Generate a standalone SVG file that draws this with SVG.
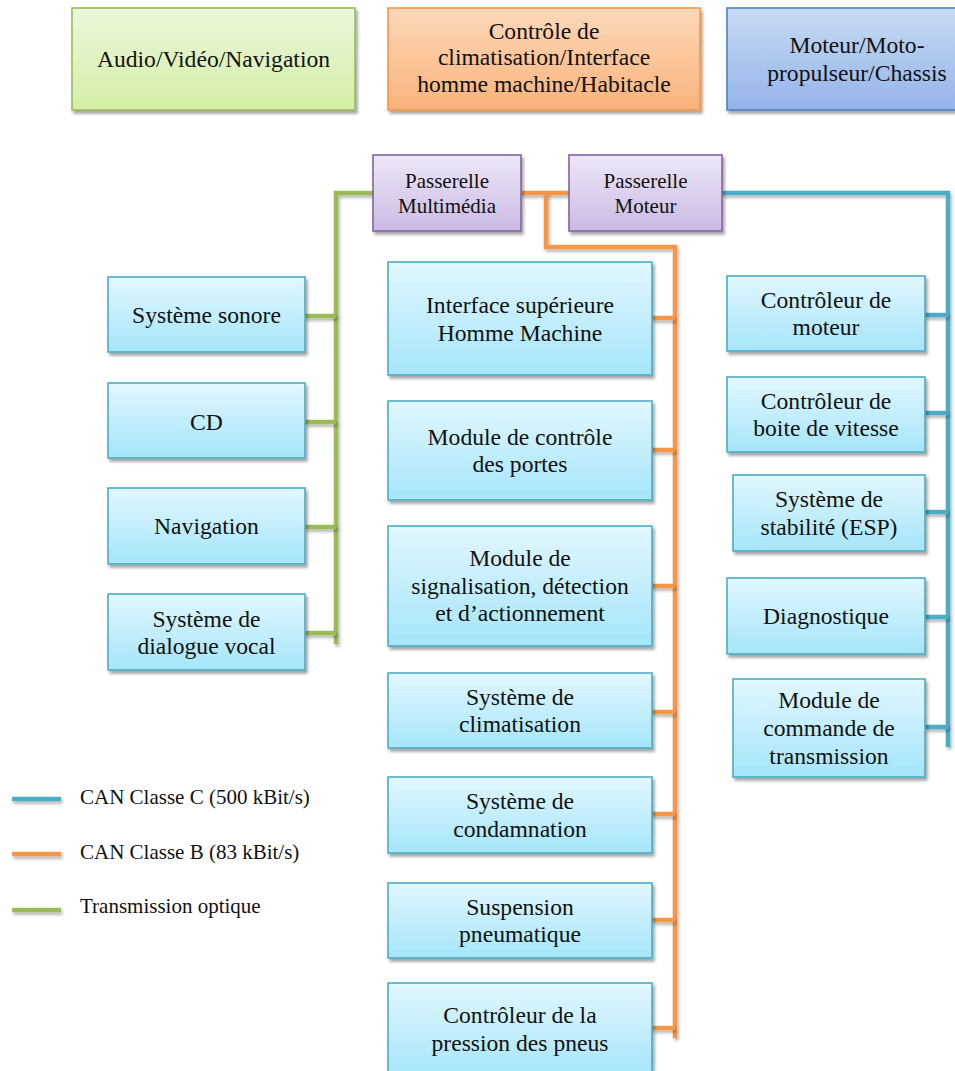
<svg xmlns="http://www.w3.org/2000/svg" width="955" height="1071" viewBox="0 0 955 1071">
  <defs>
    <linearGradient id="gCyan" x1="0" y1="0" x2="0" y2="1">
      <stop offset="0" stop-color="#e2f7fe"/>
      <stop offset="1" stop-color="#a5e5fa"/>
    </linearGradient>
    <linearGradient id="gGreen" x1="0" y1="0" x2="0" y2="1">
      <stop offset="0" stop-color="#ecf7dc"/>
      <stop offset="1" stop-color="#d3efa6"/>
    </linearGradient>
    <linearGradient id="gOrange" x1="0" y1="0" x2="0" y2="1">
      <stop offset="0" stop-color="#fdd9ba"/>
      <stop offset="1" stop-color="#f9b27a"/>
    </linearGradient>
    <linearGradient id="gBlue" x1="0" y1="0" x2="0" y2="1">
      <stop offset="0" stop-color="#c8dbf3"/>
      <stop offset="1" stop-color="#94b3e9"/>
    </linearGradient>
    <linearGradient id="gPurple" x1="0" y1="0" x2="0" y2="1">
      <stop offset="0" stop-color="#eee7f6"/>
      <stop offset="1" stop-color="#cbbae4"/>
    </linearGradient>
    <!-- soft drop shadow; user-space region so flat lines keep their shadow -->
    <filter id="shadow" filterUnits="userSpaceOnUse" x="0" y="0" width="955" height="1071">
      <feDropShadow dx="2" dy="3" stdDeviation="1.8" flood-color="#000" flood-opacity="0.35"/>
    </filter>
    <filter id="lineShadow" filterUnits="userSpaceOnUse" x="0" y="0" width="955" height="1071">
      <feDropShadow dx="1.5" dy="2.5" stdDeviation="1.5" flood-color="#000" flood-opacity="0.3"/>
    </filter>
  </defs>
  <style>
    .box { stroke-width: 1.6; filter: url(#shadow); }
    .cyan { fill: url(#gCyan); stroke: #4bacc6; }
    .green { fill: url(#gGreen); stroke: #9bbb59; }
    .orange { fill: url(#gOrange); stroke: #f79646; }
    .blue { fill: url(#gBlue); stroke: #4f81bd; }
    .purple { fill: url(#gPurple); stroke: #8064a2; }
    text { font-family: "Liberation Serif", "Times New Roman", serif; fill: #111; text-anchor: middle; }
    .t24 { font-size: 23.6px; }
    .t21 { font-size: 21px; }
    .legend { font-size: 21px; text-anchor: start; }
    .bus { fill: none; stroke-width: 4.5; stroke-linejoin: miter; stroke-linecap: butt; filter: url(#lineShadow); }
    .busG { stroke: #9bbb59; }
    .busO { stroke: #f79646; }
    .busB { stroke: #4bacc6; }
  </style>

  <!-- bus connectors -->
  <g id="connectors">
    <!-- optical ring -->
    <path class="bus busG" d="M373 193 H336 V644"/>
    <path class="bus busG" d="M305 316 H336 M305 422 H336 M305 527 H336 M305 633 H336"/>
    <!-- CAN class B -->
    <path class="bus busO" d="M521 193 H569"/>
    <path class="bus busO" d="M546 193 V247 H675 V1038"/>
    <path class="bus busO" d="M652 318 H675 M652 450 H675 M652 586 H675 M652 712 H675 M652 814 H675 M652 920 H675 M652 1028 H675"/>
    <!-- CAN class C -->
    <path class="bus busB" d="M722 193 H948 V747"/>
    <path class="bus busB" d="M925 315 H948 M925 413 H948 M925 512 H948 M925 617 H948 M925 727 H948"/>
  </g>

  <!-- domain headers -->
  <g id="domain-av">
    <rect class="box green" x="72" y="8" width="283" height="102"/>
    <text class="t24" x="213.5" y="67">Audio/Vidéo/Navigation</text>
  </g>
  <g id="domain-clim">
    <rect class="box orange" x="388" y="8" width="312" height="102"/>
    <text class="t24" x="544" y="38.5">Contrôle de</text>
    <text class="t24" x="544" y="65">climatisation/Interface</text>
    <text class="t24" x="544" y="91.5">homme machine/Habitacle</text>
  </g>
  <g id="domain-moteur">
    <rect class="box blue" x="727" y="8" width="240" height="102"/>
    <text class="t24" x="857" y="53">Moteur/Moto-</text>
    <text class="t24" x="857" y="80.6">propulseur/Chassis</text>
  </g>

  <!-- gateways -->
  <g id="gw-multimedia">
    <rect class="box purple" x="373" y="155" width="148" height="76"/>
    <text class="t21" x="447" y="188">Passerelle</text>
    <text class="t21" x="447" y="213">Multimédia</text>
  </g>
  <g id="gw-moteur">
    <rect class="box purple" x="569" y="155" width="153" height="76"/>
    <text class="t21" x="645.5" y="188">Passerelle</text>
    <text class="t21" x="645.5" y="213">Moteur</text>
  </g>

  <!-- optical ring devices -->
  <g id="n-sonore">
    <rect class="box cyan" x="108" y="277" width="197" height="75"/>
    <text class="t24" x="206.5" y="323">Système sonore</text>
  </g>
  <g id="n-cd">
    <rect class="box cyan" x="108" y="383" width="197" height="75"/>
    <text class="t24" x="206.5" y="429.5">CD</text>
  </g>
  <g id="n-navigation">
    <rect class="box cyan" x="108" y="488" width="197" height="76"/>
    <text class="t24" x="206.5" y="534">Navigation</text>
  </g>
  <g id="n-dialogue">
    <rect class="box cyan" x="108" y="594" width="197" height="76"/>
    <text class="t24" x="206.5" y="626.5">Système de</text>
    <text class="t24" x="206.5" y="654">dialogue vocal</text>
  </g>

  <!-- CAN class B devices -->
  <g id="n-ihm">
    <rect class="box cyan" x="388" y="262" width="264" height="113"/>
    <text class="t24" x="520" y="313">Interface supérieure</text>
    <text class="t24" x="520" y="340.6">Homme Machine</text>
  </g>
  <g id="n-portes">
    <rect class="box cyan" x="388" y="401" width="264" height="99"/>
    <text class="t24" x="520" y="444.7">Module de contrôle</text>
    <text class="t24" x="520" y="472.3">des portes</text>
  </g>
  <g id="n-signalisation">
    <rect class="box cyan" x="388" y="526" width="264" height="120"/>
    <text class="t24" x="520" y="566">Module de</text>
    <text class="t24" x="520" y="593.6">signalisation, détection</text>
    <text class="t24" x="520" y="621.2">et d’actionnement</text>
  </g>
  <g id="n-climatisation">
    <rect class="box cyan" x="388" y="673" width="264" height="75"/>
    <text class="t24" x="520" y="704.7">Système de</text>
    <text class="t24" x="520" y="732.3">climatisation</text>
  </g>
  <g id="n-condamnation">
    <rect class="box cyan" x="388" y="777" width="264" height="76"/>
    <text class="t24" x="520" y="809.2">Système de</text>
    <text class="t24" x="520" y="836.8">condamnation</text>
  </g>
  <g id="n-suspension">
    <rect class="box cyan" x="388" y="883" width="264" height="75"/>
    <text class="t24" x="520" y="914.7">Suspension</text>
    <text class="t24" x="520" y="942.3">pneumatique</text>
  </g>
  <g id="n-pneus">
    <rect class="box cyan" x="388" y="983" width="264" height="94"/>
    <text class="t24" x="520" y="1023">Contrôleur de la</text>
    <text class="t24" x="520" y="1050.6">pression des pneus</text>
  </g>

  <!-- CAN class C devices -->
  <g id="n-moteur">
    <rect class="box cyan" x="727" y="276" width="198" height="75"/>
    <text class="t24" x="826" y="307.7">Contrôleur de</text>
    <text class="t24" x="826" y="335.3">moteur</text>
  </g>
  <g id="n-boite">
    <rect class="box cyan" x="727" y="377" width="198" height="75"/>
    <text class="t24" x="826" y="408.7">Contrôleur de</text>
    <text class="t24" x="826" y="436.3">boite de vitesse</text>
  </g>
  <g id="n-esp">
    <rect class="box cyan" x="733" y="475" width="192" height="76"/>
    <text class="t24" x="829" y="507.2">Système de</text>
    <text class="t24" x="829" y="534.8">stabilité (ESP)</text>
  </g>
  <g id="n-diagnostique">
    <rect class="box cyan" x="727" y="578" width="198" height="76"/>
    <text class="t24" x="826" y="624">Diagnostique</text>
  </g>
  <g id="n-transmission">
    <rect class="box cyan" x="733" y="679" width="192" height="98"/>
    <text class="t24" x="829" y="708.4">Module de</text>
    <text class="t24" x="829" y="736">commande de</text>
    <text class="t24" x="829" y="763.6">transmission</text>
  </g>

  <!-- legend -->
  <g id="legend">
    <path class="bus busB" d="M12 799 H61"/>
    <path class="bus busO" d="M12 854 H61"/>
    <path class="bus busG" d="M12 910 H61"/>
    <text class="legend" x="80" y="804">CAN Classe C (500 kBit/s)</text>
    <text class="legend" x="80" y="859">CAN Classe B (83 kBit/s)</text>
    <text class="legend" x="80" y="913">Transmission optique</text>
  </g>
</svg>
